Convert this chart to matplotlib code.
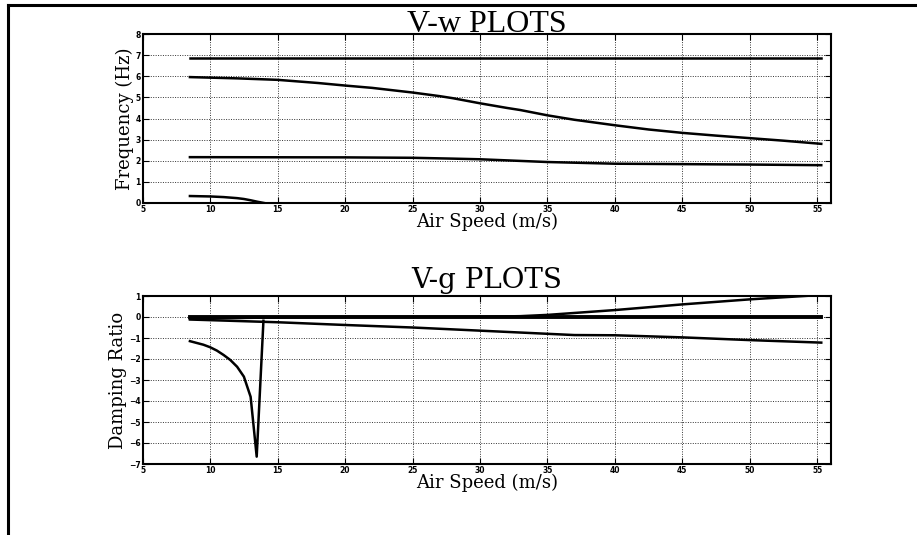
import numpy as np
import matplotlib
matplotlib.use('Agg')
import matplotlib.pyplot as plt
from matplotlib.lines import Line2D

# ---------------- data ----------------
# V-w plot: frequency (Hz) vs air speed (m/s)
w1_x = [8.5, 55.3]
w1_y = [6.88, 6.88]

w2_x = [8.5, 12, 15, 18, 20, 22, 25, 27, 28, 30, 32, 33, 35, 37, 40, 42.5, 45, 47.5, 50, 52.5, 55.3]
w2_y = [5.96, 5.9, 5.83, 5.68, 5.56, 5.45, 5.23, 5.06, 4.96, 4.72, 4.5, 4.4, 4.15, 3.94, 3.68, 3.48, 3.32, 3.19, 3.07, 2.95, 2.8]

w3_x = [8.5, 20, 25, 28, 30, 35, 40, 45, 50, 55.3]
w3_y = [2.17, 2.16, 2.14, 2.1, 2.07, 1.94, 1.86, 1.84, 1.82, 1.79]

w4_x = [8.5, 10, 11, 12, 12.5, 13, 13.5, 14.0]
w4_y = [0.33, 0.31, 0.28, 0.23, 0.19, 0.13, 0.06, 0.0]

# V-g plot: damping ratio vs air speed (m/s)
g1_x = [8.5, 55.3]
g1_y = [0.0, 0.0]

g2_x = [8.5, 15, 20, 25, 30, 33, 35, 40, 45, 50, 55.3]
g2_y = [-0.08, -0.02, 0.0, 0.0, 0.01, 0.04, 0.1, 0.33, 0.6, 0.84, 1.05]

g3_x = [8.5, 15, 20, 25, 28, 30, 35, 37, 40, 45, 50, 55.3]
g3_y = [-0.12, -0.25, -0.38, -0.5, -0.59, -0.65, -0.8, -0.86, -0.87, -0.97, -1.1, -1.22]

g4_x = [8.5, 9.5, 10, 10.5, 11, 11.5, 12, 12.5, 13.0, 13.45, 13.95]
g4_y = [-1.15, -1.32, -1.44, -1.6, -1.81, -2.05, -2.37, -2.84, -3.8, -6.65, -0.18]

# ---------------- figure ----------------
fig = plt.figure(figsize=(9.17, 5.35), dpi=100)
W, H = 917, 535

def px_axes(x0, y0, x1, y1):
    return fig.add_axes([x0 / W, 1 - y1 / H, (x1 - x0) / W, (y1 - y0) / H])

ax1 = px_axes(142.7, 34, 830.7, 203)
ax2 = px_axes(142.7, 296, 830.7, 464)

lab_font = dict(family='DejaVu Serif', fontsize=13)

def style(ax, ylim, ylabel):
    ax.set_xlim(5, 56)
    ax.set_ylim(*ylim)
    ax.set_xticks(np.arange(5, 56, 5))
    ax.set_yticks(np.arange(ylim[0], ylim[1] + 1, 1))
    ax.grid(True, color='#333333', ls=(0, (1, 1.5)), lw=0.7)
    ax.tick_params(direction='in', top=True, right=True, length=4, width=0.8,
                   pad=1.5, labelsize=5.5)
    for lbl in ax.get_xticklabels() + ax.get_yticklabels():
        lbl.set_fontweight('bold')
    for s in ax.spines.values():
        s.set_linewidth(1.5)
    ax.set_xlabel('Air Speed (m/s)', labelpad=-1, **lab_font)
    ax.set_ylabel(ylabel, labelpad=1, **lab_font)

# top: V-w
for x, y in [(w1_x, w1_y), (w2_x, w2_y), (w3_x, w3_y), (w4_x, w4_y)]:
    ax1.plot(x, y, color='black', lw=1.8)
style(ax1, (0, 8), 'Frequency (Hz)')
ax1.set_title('V-w PLOTS', family='Liberation Serif', fontsize=23, pad=1.5)

# bottom: V-g
ax2.plot(g1_x, g1_y, color='black', lw=2.8)
for x, y in [(g2_x, g2_y), (g3_x, g3_y), (g4_x, g4_y)]:
    ax2.plot(x, y, color='black', lw=1.8)
style(ax2, (-7, 1), 'Damping Ratio')
ax2.set_title('V-g PLOTS', family='DejaVu Serif', fontsize=20, pad=6)

# frame lines of the original screenshot
fig.add_artist(Line2D([8 / W, 1], [1 - 4.5 / H, 1 - 4.5 / H], color='black', lw=2.2))
fig.add_artist(Line2D([8 / W, 8 / W], [0, 1 - 4.5 / H], color='black', lw=2.2))

fig.savefig('out.png', dpi=100)
